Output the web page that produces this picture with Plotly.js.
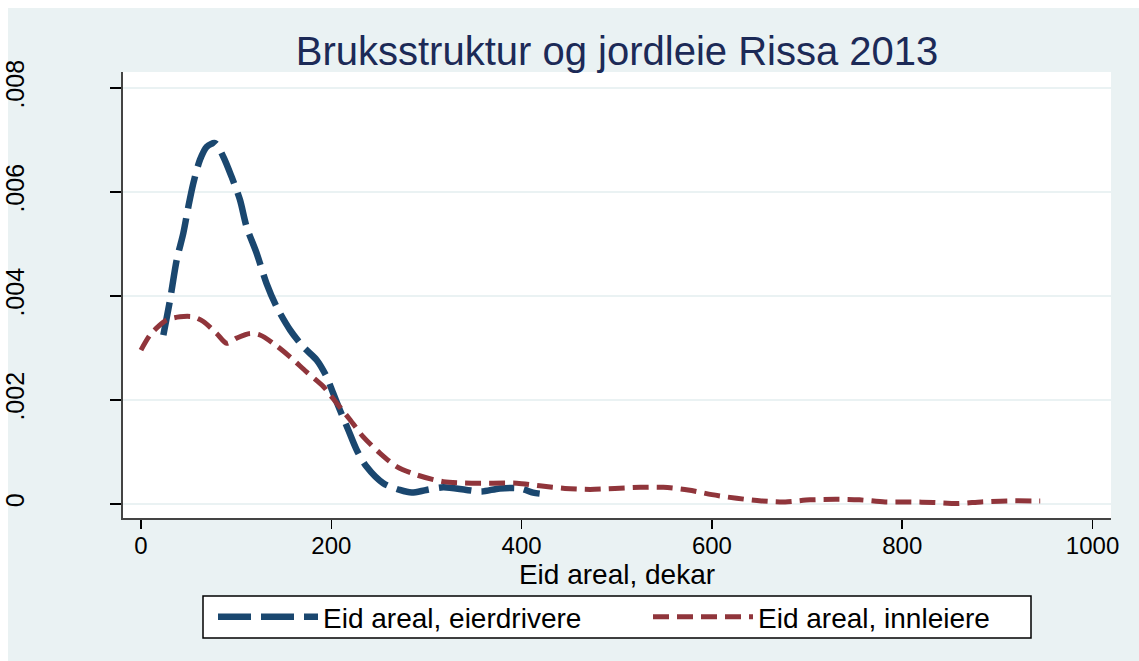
<!DOCTYPE html>
<html>
<head>
<meta charset="utf-8">
<script src="https://cdn.plot.ly/plotly-3.0.1.min.js"></script>
<style>html,body{margin:0;padding:0;background:#fff;}#chart{width:1139px;height:661px;}</style>
</head>
<body>
<div id="chart"></div>
<script>
// Kernel density estimates
var eierX = [23.5, 30.5, 37.5, 44.5, 49.8, 55, 62, 69, 77.8, 86.5, 95.3, 104, 111, 121.6, 132, 142.6, 156.6, 170.6, 184.6, 195, 202, 209, 218, 226.7, 237, 254.6, 272, 284.5, 300, 317.7, 342, 358, 377, 398, 412, 419];
var eierY = [0.00325, 0.00392, 0.00469, 0.00521, 0.00572, 0.00617, 0.00662, 0.00687, 0.00694, 0.00668, 0.00629, 0.00585, 0.00533, 0.00482, 0.00424, 0.00379, 0.00335, 0.00302, 0.00277, 0.00245, 0.00213, 0.00181, 0.00142, 0.00104, 0.00072, 0.00040, 0.00027, 0.00022, 0.00027, 0.00032, 0.00027, 0.00024, 0.00030, 0.00030, 0.00022, 0.00020];

var innX = [0, 9.5, 18, 27, 41, 55, 65.5, 79.5, 90, 100.5, 114.6, 125, 139, 156.6, 174, 191.6, 205.6, 219.7, 233.6, 251, 268.7, 289.7, 317.7, 347.6, 370, 395, 419, 445.6, 472, 498, 524.6, 549, 575, 600, 626, 652, 677, 703, 730, 755, 782, 808, 833, 858, 883, 910, 936, 945];
var innY = [0.00296, 0.00325, 0.00341, 0.00354, 0.00360, 0.00360, 0.00351, 0.00328, 0.00309, 0.00319, 0.00328, 0.00325, 0.00309, 0.00283, 0.00254, 0.00226, 0.00194, 0.00162, 0.00129, 0.00098, 0.00072, 0.00056, 0.00043, 0.00040, 0.00040, 0.00040, 0.00035, 0.00030, 0.00028, 0.00030, 0.00032, 0.00032, 0.00027, 0.00018, 0.00011, 0.00006, 0.00004, 0.00008, 0.00009, 0.00008, 0.00004, 0.00004, 0.00003, 0.00001, 0.00004, 0.00006, 0.00006, 0.00006];

var seriesNames = ['Eid areal, eierdrivere', 'Eid areal, innleiere'];
var xTicks = [0, 200, 400, 600, 800, 1000];
var xTickText = ['0', '200', '400', '600', '800', '1000'];
var yTicks = [0, 0.002, 0.004, 0.006, 0.008];
var yTickText = ['0', '.002', '.004', '.006', '.008'];
var chartTitle = 'Bruksstruktur og jordleie Rissa 2013';
var xTitle = 'Eid areal, dekar';

var FONT = '"Liberation Sans", Arial, Helvetica, sans-serif';
var BG = '#EAF2F3';

var traces = [
  {x: eierX, y: eierY, name: seriesNames[0], type: 'scatter', mode: 'lines',
   line: {color: '#1A476F', width: 6.5, dash: '33px,10px', shape: 'spline', smoothing: 0.8}},
  {x: innX, y: innY, name: seriesNames[1], type: 'scatter', mode: 'lines',
   line: {color: '#90353B', width: 5, dash: '16px,8px', shape: 'spline', smoothing: 0.8}}
];

var L = 123, R = 28, T = 72, B = 143, W = 1139, H = 661;
var pw = W - L - R, ph = H - T - B;
function px2x(p) { return (p - L) / pw; }
function py2y(p) { return ((T + ph) - p) / ph; }

var layout = {
  width: W, height: H,
  margin: {l: L, r: R, t: T, b: B, pad: 0},
  paper_bgcolor: BG,
  plot_bgcolor: '#FFFFFF',
  font: {family: FONT, color: '#000000', size: 24},
  title: {text: chartTitle, font: {family: FONT, size: 40, color: '#1C2A57'},
          x: 0.5, xref: 'paper', xanchor: 'center', y: 1 - 51 / H, yref: 'container', yanchor: 'middle'},
  showlegend: true,
  legend: {orientation: 'h', x: px2x(213), xanchor: 'left', y: py2y(617), yanchor: 'middle',
           bgcolor: 'rgba(0,0,0,0)', borderwidth: 0,
           font: {family: FONT, size: 28, color: '#000000'}, itemwidth: 100,
           entrywidth: 320, entrywidthmode: 'pixels'},
  xaxis: {range: [-18.9, 1019.4], tickmode: 'array', tickvals: xTicks, ticktext: xTickText,
          ticks: 'outside', ticklen: 9, tickwidth: 1.5, tickcolor: '#000000', ticklabelstandoff: -4,
          showline: true, linecolor: '#444444', linewidth: 2, showgrid: false, zeroline: false,
          tickfont: {family: FONT, size: 24, color: '#000000'},
          title: {text: xTitle, font: {family: FONT, size: 28, color: '#000000'}, standoff: 0}},
  yaxis: {range: [-0.000269, 0.008308], tickmode: 'array', tickvals: yTicks, ticktext: yTickText,
          ticks: 'outside', ticklen: 11, tickwidth: 1.5, tickcolor: '#000000', tickangle: -90,
          ticklabelstandoff: 76,
          showline: true, linecolor: '#444444', linewidth: 2, showgrid: true, gridcolor: BG, gridwidth: 2,
          zeroline: false,
          tickfont: {family: FONT, size: 25, color: '#000000'}},
  shapes: [
    {type: 'rect', xref: 'paper', yref: 'paper', layer: 'below',
     x0: px2x(-5), x1: px2x(W + 5), y0: py2y(8), y1: py2y(-5), fillcolor: '#FFFFFF', line: {width: 0}},
    {type: 'rect', xref: 'paper', yref: 'paper', layer: 'below',
     x0: px2x(-5), x1: px2x(8), y0: py2y(H + 5), y1: py2y(-5), fillcolor: '#FFFFFF', line: {width: 0}},
    // legend frame
    {type: 'rect', xref: 'paper', yref: 'paper', layer: 'above',
     x0: px2x(203), x1: px2x(1031), y0: py2y(638), y1: py2y(596), fillcolor: '#FFFFFF',
     line: {color: '#000000', width: 1.5}}
  ]
};

Plotly.newPlot('chart', traces, layout, {displayModeBar: false, staticPlot: true});
</script>
</body>
</html>
